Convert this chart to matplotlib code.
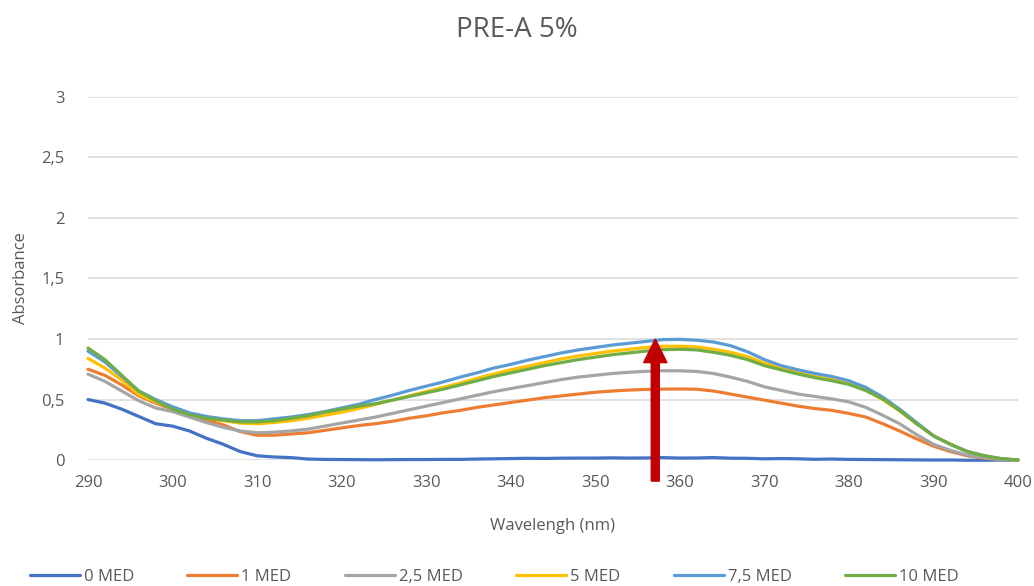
import matplotlib
matplotlib.use("Agg")
import matplotlib.pyplot as plt
from matplotlib.ticker import FuncFormatter, MultipleLocator

plt.rcParams['font.family'] = ['Open Sans', 'DejaVu Sans']

wavelength = list(range(290, 401, 2))

med_0 = [0.50, 0.47, 0.42, 0.36, 0.30, 0.28, 0.24, 0.18, 0.13, 0.07,
         0.035, 0.025, 0.02, 0.008, 0.005, 0.004, 0.003, 0.002, 0.003, 0.004,
         0.004, 0.005, 0.005, 0.008, 0.01, 0.012, 0.014, 0.013, 0.015, 0.016,
         0.016, 0.018, 0.016, 0.017, 0.02, 0.016, 0.017, 0.02, 0.015, 0.014,
         0.01, 0.012, 0.01, 0.006, 0.008, 0.005, 0.004, 0.003, 0.002, 0.001,
         0.0, 0.0, -0.002, -0.002, -0.001, 0.0]

med_1 = [0.75, 0.70, 0.62, 0.53, 0.47, 0.42, 0.37, 0.33, 0.29, 0.235,
         0.205, 0.205, 0.215, 0.225, 0.245, 0.265, 0.285, 0.30, 0.32, 0.345,
         0.365, 0.39, 0.41, 0.435, 0.455, 0.475, 0.495, 0.515, 0.53, 0.545,
         0.56, 0.57, 0.578, 0.583, 0.586, 0.587, 0.585, 0.57, 0.545, 0.52,
         0.495, 0.47, 0.445, 0.425, 0.41, 0.385, 0.355, 0.30, 0.24, 0.175,
         0.115, 0.07, 0.035, 0.015, 0.005, 0.0]

med_2_5 = [0.71, 0.65, 0.57, 0.49, 0.43, 0.40, 0.355, 0.31, 0.27, 0.24,
           0.225, 0.23, 0.24, 0.255, 0.28, 0.305, 0.33, 0.355, 0.385, 0.415,
           0.445, 0.475, 0.505, 0.535, 0.565, 0.59, 0.615, 0.64, 0.665, 0.685,
           0.70, 0.715, 0.725, 0.733, 0.738, 0.737, 0.732, 0.715, 0.685, 0.65,
           0.605, 0.575, 0.545, 0.525, 0.505, 0.48, 0.435, 0.37, 0.30, 0.21,
           0.13, 0.08, 0.04, 0.02, 0.005, 0.0]

med_5 = [0.84, 0.76, 0.66, 0.54, 0.48, 0.43, 0.38, 0.345, 0.325, 0.305,
         0.30, 0.31, 0.325, 0.345, 0.37, 0.395, 0.425, 0.46, 0.495, 0.53,
         0.565, 0.60, 0.635, 0.675, 0.71, 0.745, 0.775, 0.805, 0.835, 0.86,
         0.88, 0.90, 0.915, 0.93, 0.94, 0.94, 0.935, 0.915, 0.89, 0.855,
         0.80, 0.76, 0.72, 0.69, 0.665, 0.63, 0.575, 0.50, 0.405, 0.30,
         0.20, 0.13, 0.07, 0.035, 0.01, 0.0]

med_7_5 = [0.90, 0.81, 0.69, 0.57, 0.50, 0.44, 0.39, 0.36, 0.34, 0.325,
           0.325, 0.34, 0.355, 0.375, 0.40, 0.43, 0.46, 0.50, 0.535, 0.575,
           0.61, 0.645, 0.685, 0.72, 0.76, 0.79, 0.825, 0.855, 0.885, 0.91,
           0.93, 0.95, 0.965, 0.98, 0.995, 0.997, 0.99, 0.975, 0.945, 0.895,
           0.83, 0.78, 0.745, 0.715, 0.69, 0.655, 0.60, 0.52, 0.42, 0.31,
           0.20, 0.13, 0.07, 0.035, 0.01, 0.0]

med_10 = [0.925, 0.83, 0.70, 0.57, 0.49, 0.42, 0.375, 0.345, 0.33, 0.315,
          0.315, 0.325, 0.345, 0.365, 0.395, 0.42, 0.445, 0.465, 0.495, 0.525,
          0.555, 0.585, 0.62, 0.655, 0.69, 0.72, 0.75, 0.78, 0.805, 0.83,
          0.85, 0.87, 0.885, 0.90, 0.912, 0.915, 0.91, 0.89, 0.865, 0.83,
          0.78, 0.745, 0.71, 0.68, 0.655, 0.625, 0.575, 0.505, 0.41, 0.30,
          0.20, 0.13, 0.07, 0.035, 0.012, 0.0]

series_labels = ["0 MED", "1 MED", "2,5 MED", "5 MED", "7,5 MED", "10 MED"]
series_values = [med_0, med_1, med_2_5, med_5, med_7_5, med_10]
series_colors = ["#4472C4", "#ED7D31", "#A5A5A5", "#FFC000", "#5B9BD5", "#70AD47"]

# peak position highlighted by the arrow
arrow_x = 357.1
arrow_from = -0.174
arrow_to = 1.0

text_color = "#595959"

fig = plt.figure(figsize=(10.34, 5.86), dpi=100)
ax = fig.add_axes([0.0851, 0.215, 0.8994, 0.6195])

for lab, vals, col in zip(series_labels, series_values, series_colors):
    ax.plot(wavelength, vals, color=col, lw=2.3, label=lab,
            solid_capstyle='round', solid_joinstyle='round',
            clip_on=False, zorder=3)

ax.set_xlim(290, 400)
ax.set_ylim(0, 3)
ax.xaxis.set_major_locator(MultipleLocator(10))
ax.yaxis.set_major_locator(MultipleLocator(0.5))

def comma_fmt(v, pos):
    s = f"{v:g}"
    return s.replace(".", ",")

ax.yaxis.set_major_formatter(FuncFormatter(comma_fmt))
ax.grid(axis='y', color="#D9D9D9", lw=1.1, zorder=0)
ax.grid(axis='x', visible=False)
for sp in ax.spines.values():
    sp.set_visible(False)
ax.tick_params(axis='both', length=0, labelsize=12, labelcolor=text_color)
ax.tick_params(axis='x', pad=11)
ax.tick_params(axis='y', pad=17)

ax.set_xlabel("Wavelengh (nm)", fontsize=12, color=text_color, labelpad=19)
ax.set_ylabel("Absorbance", fontsize=12, color=text_color, labelpad=9)
fig.suptitle("PRE-A 5%", fontsize=20, color=text_color, x=0.5, y=0.949,
             va='center')

ax.arrow(arrow_x, arrow_from, 0, arrow_to - arrow_from,
         width=0.95, head_width=2.75, head_length=0.195,
         length_includes_head=True, color="#C00000", clip_on=False, zorder=5)

fig.legend(loc='center', bbox_to_anchor=(0.478, 0.0154), ncol=6, frameon=False,
           fontsize=12, labelcolor=text_color, handlelength=3.0,
           handletextpad=0.25, columnspacing=3.2)

fig.savefig("out.png", dpi=100)
